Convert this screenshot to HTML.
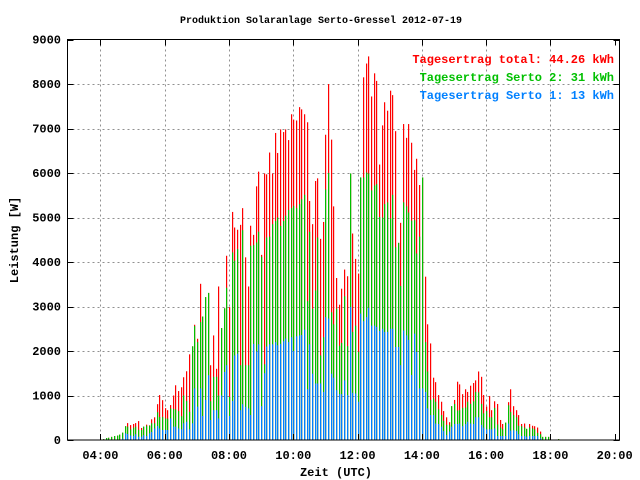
<!DOCTYPE html>
<html><head><meta charset="utf-8">
<style>
body{margin:0;background:#fff;}
svg{display:block;}
text{font-family:"Liberation Mono","DejaVu Sans Mono",monospace;font-size:12px;font-weight:bold;}
</style></head>
<body>
<svg id="chart" width="640" height="480" viewBox="0 0 640 480" xmlns="http://www.w3.org/2000/svg">
<rect width="640" height="480" fill="#fff"/>
<g id="grid"></g>
<g id="bars"></g>
<rect x="67.5" y="39.5" width="552" height="400.5" fill="none" stroke="#000" stroke-width="1"/>
<g id="ticks"></g>
<text x="321" y="23" text-anchor="middle" style="font-size:10px">Produktion Solaranlage Serto-Gressel 2012-07-19</text>
<text x="336" y="476" text-anchor="middle">Zeit (UTC)</text>
<text x="18" y="240" text-anchor="middle" transform="rotate(-90 18 240)">Leistung [W]</text>
<text x="614" y="63" text-anchor="end" fill="#ff0000">Tagesertrag total: 44.26 kWh</text>
<text x="614" y="81" text-anchor="end" fill="#00c000">Tagesertrag Serto 2: 31 kWh</text>
<text x="614" y="99" text-anchor="end" fill="#0080ff">Tagesertrag Serto 1: 13 kWh</text>
</svg>
<script>
// time of first bar (hours) and 5-minute step
const startHour = 4 + 5/60;
const stepHours = 5/60;
const totalW = [20,45,50,70,90,100,120,165,310,380,335,360,380,425,270,300,345,330,465,510,805,1010,895,715,670,785,1000,1230,1100,1185,1410,1545,1925,2105,2590,2275,
3510,2775,3210,3305,1680,2350,1600,3450,2515,2960,4140,2985,5125,4775,4725,4835,5210,4105,3450,4815,
4610,5700,6030,4160,5990,5970,6460,5990,6900,6450,6980,6920,6980,6740,7320,7200,7180,7480,7430,7320,7140,5370,4850,5820,5880,4520,4900,6860,8000,6750,5250,3640,3040,3400,3830,3680,
5990,4640,4070,3740,5900,8150,8460,8620,7720,8240,8070,6190,7070,7590,7400,7850,7750,6940,4430,4880,7100,6790,7100,6680,6070,6320,5730,5900,3670,2600,2170,1400,1300,
1010,860,650,510,400,760,900,1310,1250,1030,1140,1080,1220,1280,1340,1540,1420,1010,750,990,670,870,810,450,360,390,850,1140,760,670,560,360,370,250,360,320,310,280,190,70,70,70,0,0,0,20];
const serto2W = [20,45,50,70,90,100,120,165,310,300,240,275,300,230,225,300,320,320,375,375,625,515,515,485,480,710,695,685,650,535,1000,875,635,2105,2560,2200,
2650,2775,3210,3305,870,1420,1420,1000,2515,2960,3420,970,4215,4030,4290,1680,4715,1680,1680,4365,
4380,4440,4680,4120,1700,4550,4570,4850,4920,5000,4810,4920,5040,5170,5210,5260,5210,5300,5410,5510,3120,4680,2950,3360,4550,1900,2310,5630,6000,2870,2600,2950,2120,2180,3230,2110,
5990,2430,2570,1980,5900,5900,6010,5990,5610,5720,5750,5010,5000,5300,5340,4980,5510,4330,4430,3460,5340,5250,5110,4930,4940,4190,4570,5900,2200,1540,900,930,860,
690,560,430,340,340,760,810,660,670,720,730,860,810,870,1080,1070,810,600,650,510,510,720,350,280,240,390,780,630,560,510,320,310,280,250,280,260,240,160,130,70,70,70,0,0,0,20];
const serto1W = [0,0,0,0,0,0,0,30,150,135,100,90,130,75,75,110,90,150,180,260,315,260,225,225,225,485,300,300,260,240,375,410,240,375,1160,750,
1160,540,900,1455,450,670,670,485,1000,1530,1680,540,875,1900,1940,670,805,745,710,560,
2160,1990,2150,760,1500,2100,2150,2150,2200,2130,2160,2220,2280,2200,2310,2000,2330,2350,2360,2480,1140,2150,1490,1270,1270,1270,1080,2760,2730,1490,1400,1120,1030,1030,1340,1010,
2990,1060,1045,860,2840,2670,2760,2970,2570,2570,2540,2450,2500,2430,2430,2500,2500,2090,2090,1680,2460,2350,2250,1460,2390,1980,1160,1160,1080,710,560,560,370,
360,300,200,110,190,300,360,360,370,310,360,410,370,360,510,510,340,280,240,240,240,260,90,90,90,90,370,210,220,200,130,90,90,75,90,90,90,90,40,0,0,0,0,0,0,0];
const yTicks = [0,1000,2000,3000,4000,5000,6000,7000,8000,9000];
const xTicks = [4,6,8,10,12,14,16,18,20];
const xTickLabels = ["04:00","06:00","08:00","10:00","12:00","14:00","16:00","18:00","20:00"];

const X0=67.5, X1=619.5, Y0=440, Y1=39.5;
const xMin=2.975, xMax=20.15, yMax=9000;
function xScale(h){return X0+(h-xMin)/(xMax-xMin)*(X1-X0);}
function yScale(v){return Y0-v/yMax*(Y0-Y1);}
const NS="http://www.w3.org/2000/svg";
const grid=document.getElementById('grid'), ticks=document.getElementById('ticks'), bars=document.getElementById('bars');
function mk(tag,attrs,parent){const e=document.createElementNS(NS,tag);for(const k in attrs)e.setAttribute(k,attrs[k]);parent.appendChild(e);return e;}

yTicks.forEach((v)=>{
  const y=Math.round(yScale(v))+0.5;
  if(v>0&&v<yMax){
    const g=mk('line',{x1:X0,x2:X1,y1:y,y2:y,stroke:'#909090','stroke-dasharray':'2,3'},grid);
    
    
  }
  const t1=mk('line',{x1:X0,x2:X0+6,y1:y,y2:y,stroke:'#000'},ticks);
  
  
  const t2=mk('line',{x1:X1-6,x2:X1,y1:y,y2:y,stroke:'#000'},ticks);
  
  
  const lb=mk('text',{x:61,y:yScale(v)+4,'text-anchor':'end'},ticks);
  lb.textContent=String(v);
  
  
});
xTicks.forEach((h,i)=>{
  const x=Math.round(xScale(h))+0.5;
  if(h<20){
    const g=mk('line',{x1:x,x2:x,y1:Y1,y2:Y0,stroke:'#909090','stroke-dasharray':'2,3'},grid);
    
    
  }
  const t1=mk('line',{x1:x,x2:x,y1:Y0-6,y2:Y0,stroke:'#000'},ticks);
  
  
  const t2=mk('line',{x1:x,x2:x,y1:Y1,y2:Y1+6,stroke:'#000'},ticks);
  
  
  const lb=mk('text',{x:xScale(h),y:459,'text-anchor':'middle'},ticks);
  lb.textContent=xTickLabels[i];
  
  
});
function drawSeries(arr,color,name){
  arr.forEach((v,k)=>{
    if(v<=0)return;
    const x=Math.round(xScale(startHour+k*stepHours));
    const y=yScale(v);
    const r=mk('rect',{x:x,y:y,width:1.2,height:Y0-y,fill:color},bars);
    
    
  });
}
drawSeries(totalW,'#ff0000','bar-total');
drawSeries(serto2W,'#00c000','bar-serto-2');
drawSeries(serto1W,'#0080ff','bar-serto-1');
</script>
</body></html>
